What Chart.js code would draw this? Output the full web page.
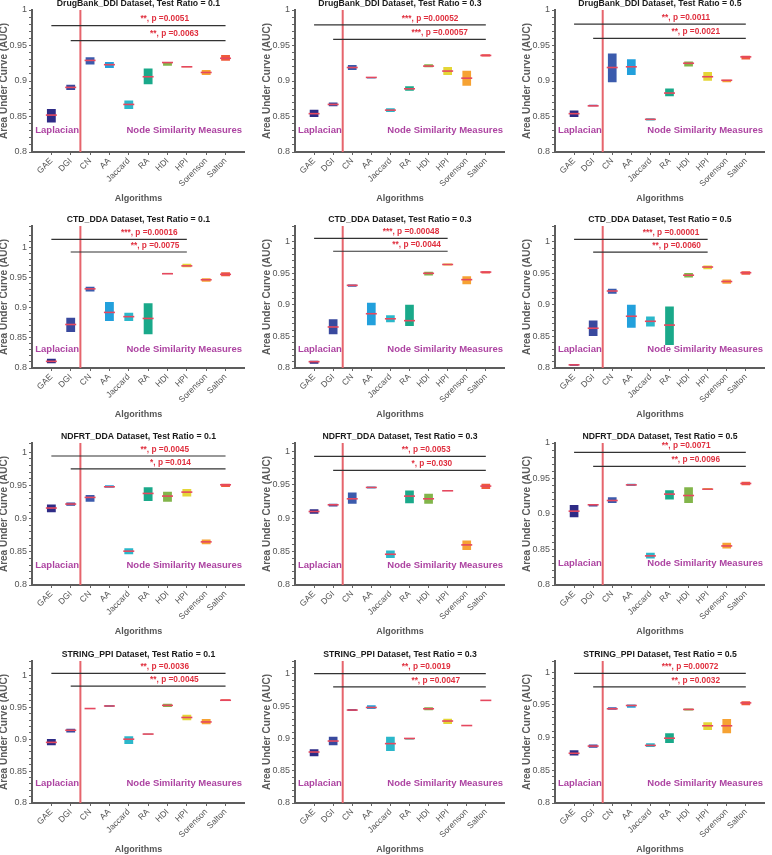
<!DOCTYPE html>
<html>
<head>
<meta charset="utf-8">
<script src="https://cdn.jsdelivr.net/npm/chart.js@4.4.1/dist/chart.umd.min.js"></script>
<style>
  html, body { margin: 0; padding: 0; background: #fff; }
  body { width: 772px; height: 855px; position: relative; overflow: hidden; }
  .panel { position: absolute; }
</style>
</head>
<body>
<script>
// Categories and colours
const algorithms = ["GAE", "DGI", "CN", "AA", "Jaccard", "RA", "HDI", "HPI", "Sorenson", "Salton"];
const boxColors = ["#2e2b86", "#39499e", "#3b5bad", "#22a0dc", "#2bb7ca", "#1aa98a", "#82b54a", "#e4d636", "#f6a233", "#ef5a3b"];
const datasetNames = ["DrugBank_DDI", "CTD_DDA", "NDFRT_DDA", "STRING_PPI"];
const testRatios = ["0.1", "0.3", "0.5"];

// Box lower edge / median / upper edge for each panel
const lowDrugBank01 = [0.840, 0.886, 0.922, 0.917, 0.859, 0.894, 0.920, 0.918, 0.907, 0.927];
const medDrugBank01 = [0.852, 0.891, 0.929, 0.923, 0.867, 0.906, 0.926, 0.920, 0.912, 0.932];
const highDrugBank01 = [0.862, 0.896, 0.935, 0.928, 0.874, 0.919, 0.928, 0.921, 0.917, 0.938];

const lowDrugBank03 = [0.848, 0.863, 0.914, 0.902, 0.855, 0.885, 0.918, 0.907, 0.892, 0.933];
const medDrugBank03 = [0.854, 0.867, 0.919, 0.905, 0.859, 0.889, 0.921, 0.914, 0.904, 0.936];
const highDrugBank03 = [0.861, 0.871, 0.924, 0.907, 0.863, 0.894, 0.925, 0.921, 0.916, 0.939];

const lowDrugBank05 = [0.848, 0.863, 0.897, 0.907, 0.843, 0.877, 0.919, 0.899, 0.897, 0.929];
const medDrugBank05 = [0.854, 0.865, 0.919, 0.920, 0.846, 0.883, 0.925, 0.906, 0.901, 0.934];
const highDrugBank05 = [0.860, 0.868, 0.940, 0.932, 0.849, 0.891, 0.929, 0.914, 0.903, 0.937];

const lowCTD01 = [0.806, 0.858, 0.925, 0.876, 0.876, 0.854, 0.954, 0.965, 0.941, 0.950];
const medCTD01 = [0.811, 0.872, 0.931, 0.892, 0.885, 0.882, 0.956, 0.969, 0.946, 0.955];
const highCTD01 = [0.817, 0.885, 0.936, 0.911, 0.893, 0.909, 0.959, 0.974, 0.950, 0.960];

const lowCTD03 = [0.805, 0.852, 0.927, 0.866, 0.871, 0.865, 0.945, 0.961, 0.931, 0.948];
const medCTD03 = [0.810, 0.865, 0.931, 0.886, 0.878, 0.875, 0.950, 0.964, 0.940, 0.952];
const highCTD03 = [0.813, 0.879, 0.934, 0.905, 0.885, 0.902, 0.954, 0.967, 0.947, 0.955];

const lowCTD05 = [0.802, 0.849, 0.916, 0.862, 0.864, 0.835, 0.942, 0.955, 0.932, 0.946];
const medCTD05 = [0.805, 0.863, 0.922, 0.882, 0.874, 0.868, 0.947, 0.960, 0.937, 0.951];
const highCTD05 = [0.808, 0.877, 0.927, 0.902, 0.883, 0.899, 0.952, 0.964, 0.942, 0.955];

const lowNDFRT01 = [0.908, 0.918, 0.924, 0.945, 0.845, 0.925, 0.924, 0.932, 0.860, 0.946];
const medNDFRT01 = [0.916, 0.922, 0.932, 0.948, 0.851, 0.938, 0.934, 0.940, 0.865, 0.951];
const highNDFRT01 = [0.923, 0.926, 0.937, 0.952, 0.857, 0.949, 0.942, 0.946, 0.870, 0.954];

const lowNDFRT03 = [0.905, 0.916, 0.920, 0.943, 0.839, 0.921, 0.920, 0.939, 0.851, 0.942];
const medNDFRT03 = [0.910, 0.920, 0.929, 0.946, 0.846, 0.933, 0.929, 0.941, 0.860, 0.948];
const highNDFRT03 = [0.915, 0.923, 0.940, 0.949, 0.853, 0.943, 0.938, 0.943, 0.868, 0.953];

const lowNDFRT05 = [0.894, 0.909, 0.914, 0.938, 0.836, 0.919, 0.914, 0.933, 0.850, 0.939];
const medNDFRT05 = [0.904, 0.913, 0.919, 0.941, 0.841, 0.928, 0.926, 0.935, 0.855, 0.943];
const highNDFRT05 = [0.914, 0.915, 0.925, 0.944, 0.847, 0.935, 0.939, 0.938, 0.861, 0.947];

const lowSTRING01 = [0.889, 0.909, 0.947, 0.949, 0.891, 0.906, 0.949, 0.928, 0.922, 0.959];
const medSTRING01 = [0.895, 0.914, 0.948, 0.952, 0.900, 0.908, 0.953, 0.934, 0.927, 0.961];
const highSTRING01 = [0.902, 0.918, 0.950, 0.955, 0.906, 0.910, 0.957, 0.940, 0.933, 0.964];

const lowSTRING03 = [0.871, 0.888, 0.941, 0.944, 0.879, 0.897, 0.942, 0.921, 0.919, 0.957];
const medSTRING03 = [0.879, 0.896, 0.944, 0.948, 0.892, 0.900, 0.946, 0.927, 0.920, 0.959];
const highSTRING03 = [0.885, 0.904, 0.947, 0.953, 0.904, 0.902, 0.950, 0.932, 0.922, 0.961];

const lowSTRING05 = [0.871, 0.883, 0.941, 0.944, 0.884, 0.890, 0.940, 0.910, 0.905, 0.948];
const medSTRING05 = [0.876, 0.887, 0.944, 0.949, 0.888, 0.899, 0.943, 0.918, 0.918, 0.953];
const highSTRING05 = [0.882, 0.891, 0.948, 0.952, 0.893, 0.908, 0.946, 0.925, 0.930, 0.957];

// Upper y limit of each panel
const yAxisMax = [1, 1, 1, 1.035, 1.025, 1.025, 1.014, 1.0125, 1.0, 1.0225, 1.02, 1.017];

// Significance brackets: height of the two bars and their labels
const bracketLevels = [
  [0.978, 0.957], [0.979, 0.9585], [0.980, 0.960],
  [1.0127, 0.992], [1.0053, 0.985], [1.0037, 0.9836],
  [0.9944, 0.975], [0.9925, 0.9715], [0.9868, 0.967],
  [1.003, 0.983], [1.0005, 0.980], [0.998, 0.9775]
];
const pValueLabels = [
  ["**, p =0.0051", "**, p =0.0063"], ["***, p =0.00052", "***, p =0.00057"], ["**, p =0.0011", "**, p =0.0021"],
  ["***, p =0.00016", "**, p =0.0075"], ["***, p =0.00048", "**, p =0.0044"], ["***, p =0.00001", "**, p =0.0060"],
  ["**, p =0.0045", "*, p =0.014"], ["**, p =0.0053", "*, p =0.030"], ["**, p =0.0071", "**, p =0.0096"],
  ["**, p =0.0036", "**, p =0.0045"], ["**, p =0.0019", "**, p =0.0047"], ["***, p =0.00072", "**, p =0.0032"]
];
// brackets start at GAE / DGI and end at this category (per dataset)
const bracketEnd = [10, 8, 10, 10];

const panelLows = [lowDrugBank01, lowDrugBank03, lowDrugBank05, lowCTD01, lowCTD03, lowCTD05,
  lowNDFRT01, lowNDFRT03, lowNDFRT05, lowSTRING01, lowSTRING03, lowSTRING05];
const panelMedians = [medDrugBank01, medDrugBank03, medDrugBank05, medCTD01, medCTD03, medCTD05,
  medNDFRT01, medNDFRT03, medNDFRT05, medSTRING01, medSTRING03, medSTRING05];
const panelHighs = [highDrugBank01, highDrugBank03, highDrugBank05, highCTD01, highCTD03, highCTD05,
  highNDFRT01, highNDFRT03, highNDFRT05, highSTRING01, highSTRING03, highSTRING05];

// Layout of the grid (pixels)
const axisLeft = [32, 295, 555];
const plotWidth = [218, 215, 215];
const plotTop = [10, 226, 443, 661];
const PLOT_HEIGHT = 142;
const Y_AXIS_WIDTH = 34;
const X_AXIS_HEIGHT = 52;
const TOP_PAD = 16;
const FONT = "'Liberation Sans', Arial, Helvetica, sans-serif";

// Plugin qui dessine le titre, la ligne rouge, les crochets et les textes
function makeAnnotations(index) {
  const row = Math.floor(index / 3);
  const col = index % 3;
  return {
    id: "panelAnnotations",
    beforeDatasetsDraw(chart) {
      const { ctx, chartArea, scales } = chart;
      const px = scales.x.getPixelForValue(2.5);
      ctx.save();
      ctx.strokeStyle = "#e6646c";
      ctx.lineWidth = 2;
      ctx.beginPath();
      ctx.moveTo(px, chartArea.bottom);
      ctx.lineTo(px, chartArea.top);
      ctx.stroke();
      ctx.restore();
    },
    afterDatasetsDraw(chart) {
      const { ctx, chartArea, scales } = chart;
      const x = scales.x, y = scales.y;
      ctx.save();

      // brackets GAE -> end, DGI -> end
      [1, 2].forEach((start, k) => {
        const end = bracketEnd[row];
        const py = y.getPixelForValue(bracketLevels[index][k]);
        ctx.strokeStyle = "#333";
        ctx.lineWidth = 1.2;
        ctx.beginPath();
        ctx.moveTo(x.getPixelForValue(start), py);
        ctx.lineTo(x.getPixelForValue(end), py);
        ctx.stroke();
        ctx.fillStyle = "#e0303f";
        ctx.font = "bold 8.3px " + FONT;
        ctx.textAlign = "left";
        ctx.textBaseline = "middle";
        ctx.fillText(pValueLabels[index][k], x.getPixelForValue((start + end) / 2 + 0.1), py - 6.5);
      });

      // group labels
      ctx.fillStyle = "#ad44a2";
      ctx.font = "bold 9.5px " + FONT;
      ctx.textAlign = "center";
      ctx.textBaseline = "middle";
      const ly = y.getPixelForValue(0.83);
      ctx.fillText("Laplacian", x.getPixelForValue(1.3), ly);
      ctx.fillText("Node Similarity Measures", x.getPixelForValue(7.87), ly);

      // panel title
      ctx.fillStyle = "#1a1a1a";
      ctx.font = "bold 8.7px " + FONT;
      ctx.fillText(datasetNames[row] + " Dataset, Test Ratio = " + testRatios[col],
        (chartArea.left + chartArea.right) / 2, chartArea.top - 6);
      ctx.restore();
    }
  };
}

function isMajor(v) {
  return Math.abs(v * 20 - Math.round(v * 20)) < 1e-6;
}

// Fonction pour afficher un panneau
function renderPanel(index) {
  const row = Math.floor(index / 3);
  const col = index % 3;
  const low = panelLows[index], med = panelMedians[index], high = panelHighs[index];

  const width = Y_AXIS_WIDTH + plotWidth[col] + 2;
  const height = TOP_PAD + PLOT_HEIGHT + X_AXIS_HEIGHT;
  const wrap = document.createElement("div");
  wrap.className = "panel";
  wrap.style.left = (axisLeft[col] - Y_AXIS_WIDTH) + "px";
  wrap.style.top = (plotTop[row] - TOP_PAD) + "px";
  wrap.style.width = width + "px";
  wrap.style.height = height + "px";
  const canvas = document.createElement("canvas");
  canvas.width = width;
  canvas.height = height;
  wrap.appendChild(canvas);
  document.body.appendChild(wrap);

  new Chart(canvas, {
    type: "bar",
    data: {
      datasets: [
        {
          type: "bar",
          data: algorithms.map((a, i) => ({ x: i + 1, y: [low[i], high[i]] })),
          backgroundColor: boxColors,
          borderColor: "rgba(255,255,255,0.35)",
          borderWidth: 1,
          borderSkipped: false,
          categoryPercentage: 1,
          barPercentage: 0.56,
          order: 2,
        },
        {
          type: "scatter",
          data: algorithms.map((a, i) => ({ x: i + 1, y: med[i] })),
          pointStyle: "line",
          pointRadius: 5.5,
          pointBorderWidth: 1.6,
          pointBorderColor: "#e5485f",
          order: 1,
        },
      ],
    },
    options: {
      responsive: false,
      animation: false,
      events: [],
      layout: { padding: { left: 0, right: 2, top: TOP_PAD, bottom: 0 } },
      plugins: { legend: { display: false }, tooltip: { enabled: false } },
      scales: {
        x: {
          type: "linear",
          min: 0,
          max: 11,
          offset: false,
          afterBuildTicks: (s) => { s.ticks = algorithms.map((a, i) => ({ value: i + 1 })); },
          afterFit: (s) => { s.height = X_AXIS_HEIGHT; },
          ticks: {
            autoSkip: false,
            minRotation: 45,
            maxRotation: 45,
            padding: 1,
            color: "#555",
            font: { family: FONT, size: 8.5 },
            callback: (v) => algorithms[Math.round(v) - 1] || "",
          },
          grid: { offset: false, drawOnChartArea: false, drawTicks: true, tickLength: 3, color: "#666" },
          border: { color: "#5d5d5d", width: 2 },
          title: { display: true, text: "Algorithms", color: "#555", padding: 0,
            font: { family: FONT, size: 9, weight: "bold" } },
        },
        y: {
          min: 0.8,
          max: yAxisMax[index],
          afterFit: (s) => { s.width = Y_AXIS_WIDTH; },
          ticks: {
            stepSize: 0.01,
            autoSkip: false,
            padding: 2,
            color: "#555",
            font: { family: FONT, size: 9 },
            callback: (v) => (isMajor(v) ? String(+v.toFixed(2)) : ""),
          },
          grid: { drawOnChartArea: false, drawTicks: true, tickLength: 3, color: "#666" },
          border: { color: "#5d5d5d", width: 2 },
          title: { display: true, text: "Area Under Curve (AUC)", color: "#5a5a5a", padding: 0,
            font: { family: FONT, size: 10, weight: "bold" } },
        },
      },
    },
    plugins: [makeAnnotations(index)],
  });
}

// Dessiner les 12 panneaux au démarrage
window.onload = () => {
  for (let i = 0; i < 12; i++) renderPanel(i);
};
</script>
</body>
</html>
